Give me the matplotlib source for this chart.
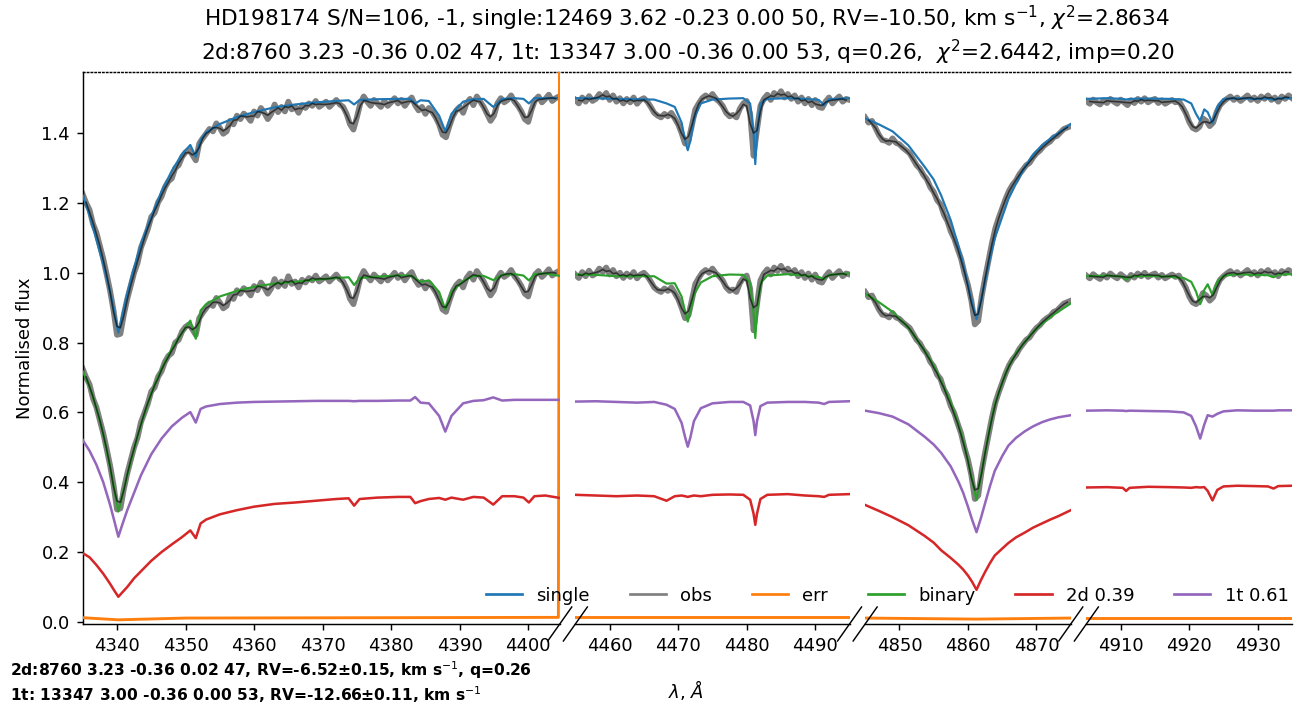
import numpy as np
import matplotlib.pyplot as plt
from matplotlib.lines import Line2D

# wavelength windows of the broken axis
xlims = [(4335, 4404.6), (4455, 4495), (4845, 4875), (4905, 4935)]

# ---- panel 1 (H gamma) model grid and components
wave1 = [4335, 4336, 4337, 4338, 4339, 4339.6, 4340.2, 4340.8, 4341.5, 4342.5,
         4343.5, 4345, 4346.5, 4348, 4349.5, 4350.7, 4351.5, 4352.2, 4353, 4355,
         4357.5, 4360, 4363, 4366, 4369, 4372, 4373.8, 4374.6, 4375.4, 4378,
         4381, 4382.8, 4383.5, 4384.3, 4385.5, 4387, 4387.9, 4388.8, 4390.5, 4392,
         4393.5, 4394.9, 4396.2, 4398, 4399.3, 4400.1, 4400.9, 4402.5, 4404.6]
single1 = [0.722, 0.665, 0.595, 0.525, 0.445, 0.390, 0.328, 0.380, 0.440, 0.515,
           0.582, 0.660, 0.733, 0.792, 0.840, 0.866, 0.832, 0.880, 0.902, 0.926,
           0.946, 0.960, 0.974, 0.982, 0.988, 0.992, 0.994, 0.982, 0.995, 0.997,
           0.998, 0.998, 0.985, 0.994, 0.992, 0.950, 0.905, 0.955, 0.990, 0.997,
           0.998, 0.975, 0.998, 1.000, 0.998, 0.985, 1.000, 1.000, 1.000]
d2_1 = [0.197, 0.185, 0.163, 0.138, 0.109, 0.090, 0.072, 0.085, 0.100, 0.125,
        0.145, 0.175, 0.200, 0.222, 0.243, 0.262, 0.240, 0.282, 0.293, 0.308,
        0.320, 0.330, 0.338, 0.342, 0.347, 0.352, 0.354, 0.333, 0.352, 0.356,
        0.358, 0.358, 0.340, 0.346, 0.352, 0.355, 0.350, 0.356, 0.350, 0.358,
        0.356, 0.336, 0.360, 0.360, 0.356, 0.342, 0.360, 0.362, 0.355]
t1_1 = [0.521, 0.490, 0.450, 0.400, 0.335, 0.290, 0.244, 0.280, 0.320, 0.370,
        0.420, 0.480, 0.525, 0.560, 0.585, 0.601, 0.571, 0.610, 0.617, 0.624,
        0.628, 0.630, 0.631, 0.632, 0.633, 0.633, 0.633, 0.632, 0.633, 0.633,
        0.634, 0.634, 0.644, 0.628, 0.626, 0.590, 0.545, 0.590, 0.626, 0.633,
        0.635, 0.643, 0.634, 0.636, 0.636, 0.636, 0.636, 0.636, 0.636]

# ---- panel 2 (He I 4471, Mg II 4481)
wave2 = [4455, 4458, 4461, 4464, 4466.5, 4468.3, 4469.5, 4470.5, 4471.0, 4471.4,
         4471.8, 4472.3, 4473.3, 4475, 4477.5, 4479.5, 4480.5, 4481.0, 4481.25, 4481.5,
         4482.0, 4483, 4486, 4488.5, 4490.5, 4491.3, 4492, 4495]
single2 = [1.000, 1.000, 0.998, 0.997, 0.996, 0.985, 0.975, 0.930, 0.880, 0.851,
           0.880, 0.940, 0.985, 0.996, 0.999, 1.000, 0.985, 0.900, 0.811, 0.900,
           0.985, 0.998, 1.000, 0.998, 0.995, 0.980, 0.997, 1.000]
d2_2 = [0.364, 0.362, 0.360, 0.362, 0.360, 0.347, 0.360, 0.362, 0.360, 0.358,
        0.360, 0.362, 0.360, 0.364, 0.365, 0.364, 0.350, 0.310, 0.278, 0.310,
        0.352, 0.364, 0.366, 0.362, 0.360, 0.358, 0.364, 0.366]
t1_2 = [0.631, 0.632, 0.630, 0.628, 0.630, 0.622, 0.610, 0.570, 0.530, 0.502,
        0.530, 0.575, 0.612, 0.626, 0.630, 0.630, 0.620, 0.575, 0.535, 0.575,
        0.618, 0.628, 0.630, 0.630, 0.628, 0.624, 0.630, 0.632]

# ---- panel 3 (H beta)
wave3 = [4845, 4847, 4849, 4851.3, 4853.7, 4855, 4856.1, 4857.5, 4858.6, 4859.3,
         4860.0, 4860.6, 4861.25, 4861.9, 4862.5, 4863.2, 4863.9, 4865, 4865.9, 4867,
         4868.3, 4869.5, 4870.8, 4872, 4873.2, 4875]
single3 = [0.942, 0.925, 0.905, 0.865, 0.803, 0.767, 0.721, 0.650, 0.577, 0.525,
           0.465, 0.415, 0.367, 0.420, 0.475, 0.540, 0.598, 0.660, 0.711, 0.755,
           0.803, 0.838, 0.865, 0.884, 0.900, 0.926]
d2_3 = [0.335, 0.318, 0.300, 0.277, 0.246, 0.227, 0.205, 0.183, 0.164, 0.150,
        0.133, 0.115, 0.092, 0.120, 0.143, 0.168, 0.190, 0.210, 0.226, 0.242,
        0.256, 0.270, 0.282, 0.293, 0.303, 0.320]
t1_3 = [0.605, 0.598, 0.588, 0.566, 0.530, 0.508, 0.484, 0.445, 0.402, 0.370,
        0.330, 0.293, 0.257, 0.298, 0.340, 0.388, 0.432, 0.475, 0.505, 0.527,
        0.546, 0.560, 0.572, 0.580, 0.586, 0.592]

# ---- panel 4 (He I 4922)
wave4 = [4905, 4908, 4910.3, 4910.8, 4911.3, 4914, 4917, 4919.2, 4920.3, 4921.0,
         4921.6, 4922.2, 4922.7, 4923.4, 4924.1, 4925, 4927, 4929.5, 4931.5, 4932.3,
         4933, 4935]
single4 = [0.998, 1.000, 0.998, 0.996, 0.998, 0.999, 0.998, 0.996, 0.985, 0.955,
           0.935, 0.968, 0.960, 0.928, 0.975, 0.998, 1.000, 0.998, 0.999, 0.995,
           1.000, 1.000]
d2_4 = [0.385, 0.386, 0.384, 0.375, 0.384, 0.387, 0.386, 0.385, 0.384, 0.386,
        0.385, 0.386, 0.375, 0.348, 0.378, 0.388, 0.390, 0.389, 0.388, 0.382,
        0.389, 0.390]
t1_4 = [0.605, 0.606, 0.605, 0.604, 0.605, 0.604, 0.603, 0.600, 0.590, 0.560,
        0.525, 0.565, 0.592, 0.588, 0.596, 0.603, 0.606, 0.605, 0.605, 0.605,
        0.606, 0.606]

# ---- observed spectrum, 0.5 A steps from the left edge of each window
obs_step = 0.5
obs1 = [0.725, 0.700, 0.680, 0.640, 0.615, 0.578, 0.540, 0.495, 0.448, 0.392,
        0.322, 0.325, 0.380, 0.425, 0.462, 0.500, 0.528, 0.572, 0.598, 0.625,
        0.660, 0.672, 0.702, 0.718, 0.745, 0.762, 0.770, 0.800, 0.808, 0.832,
        0.845, 0.852, 0.838, 0.822, 0.870, 0.885, 0.898, 0.912, 0.905, 0.928,
        0.915, 0.898, 0.905, 0.935, 0.925, 0.950, 0.940, 0.956, 0.948, 0.935,
        0.962, 0.950, 0.972, 0.958, 0.940, 0.955, 0.982, 0.960, 0.975, 0.962,
        0.990, 0.968, 0.975, 0.958, 0.980, 0.972, 0.985, 0.978, 0.992, 0.975,
        0.982, 0.990, 0.975, 0.985, 0.995, 0.982, 0.975, 0.955, 0.925, 0.910,
        0.945, 0.985, 1.005, 0.990, 0.978, 0.995, 0.985, 0.975, 0.992, 0.978,
        0.988, 1.000, 0.985, 0.995, 0.978, 0.992, 1.002, 0.980, 0.965, 0.975,
        0.955, 0.972, 0.960, 0.945, 0.925, 0.895, 0.888, 0.920, 0.948, 0.965,
        0.975, 0.958, 0.985, 0.998, 0.980, 1.005, 0.990, 0.975, 0.955, 0.935,
        0.950, 0.985, 1.000, 0.988, 0.995, 1.008, 0.990, 0.978, 0.962, 0.940,
        0.932, 0.968, 0.995, 1.005, 0.988, 0.998, 1.010, 0.992, 1.000, 1.005]
obs2 = [0.995, 0.985, 1.002, 0.990, 1.006, 0.992, 0.998, 1.012, 1.002, 1.015,
        0.995, 1.008, 0.990, 1.000, 0.985, 0.998, 0.988, 1.002, 0.984, 0.995,
        1.000, 0.990, 0.975, 0.958, 0.950, 0.945, 0.955, 0.948, 0.958, 0.942,
        0.925, 0.900, 0.870, 0.878, 0.922, 0.968, 0.985, 1.000, 1.008, 1.000,
        1.012, 0.998, 0.990, 0.978, 0.958, 0.948, 0.952, 0.945, 0.970, 0.985,
        0.992, 0.955, 0.835, 0.910, 0.978, 0.998, 1.010, 0.995, 1.015, 1.005,
        1.020, 1.002, 1.012, 0.998, 1.008, 0.990, 1.002, 0.985, 0.998, 0.980,
        0.995, 0.975, 0.972, 0.990, 1.002, 0.985, 0.996, 1.005, 0.990, 0.998,
        0.995]
obs3 = [0.945, 0.930, 0.935, 0.915, 0.895, 0.880, 0.878, 0.872, 0.885, 0.872,
        0.868, 0.858, 0.850, 0.842, 0.825, 0.808, 0.798, 0.780, 0.768, 0.745,
        0.732, 0.708, 0.696, 0.666, 0.648, 0.618, 0.598, 0.568, 0.540, 0.498,
        0.465, 0.420, 0.352, 0.362, 0.432, 0.485, 0.535, 0.585, 0.628, 0.658,
        0.685, 0.712, 0.735, 0.752, 0.764, 0.782, 0.795, 0.808, 0.815, 0.830,
        0.842, 0.850, 0.862, 0.870, 0.876, 0.888, 0.892, 0.902, 0.912, 0.916,
        0.920]
obs4 = [0.992, 0.984, 0.996, 0.988, 0.982, 0.994, 0.986, 0.998, 0.990, 0.984,
        0.996, 0.988, 0.980, 0.994, 0.986, 0.998, 0.990, 1.000, 0.988, 0.994,
        0.998, 0.986, 0.994, 0.984, 0.990, 0.995, 0.988, 0.992, 0.975, 0.958,
        0.932, 0.915, 0.910, 0.918, 0.942, 0.935, 0.920, 0.930, 0.960, 0.980,
        0.990, 0.998, 1.005, 0.995, 1.002, 0.992, 1.000, 1.008, 0.995, 1.002,
        0.992, 1.005, 0.998, 1.008, 0.995, 1.002, 0.990, 1.005, 0.998, 1.008,
        1.000]

# ---- error spectrum
err_wave1 = [4335, 4340.2, 4350, 4404.4, 4404.6]
err1 = [0.012, 0.006, 0.011, 0.013, 2.0]
err_wave2 = [4455, 4495]
err2 = [0.013, 0.013]
err_wave3 = [4845, 4861.2, 4875]
err3 = [0.011, 0.008, 0.011]
err_wave4 = [4905, 4935]
err4 = [0.012, 0.012]

offset = 0.5

title1 = r'HD198174 S/N=106, -1, single:12469 3.62 -0.23 0.00 50, RV=-10.50, km s$^{-1}$, $\chi^2$=2.8634'
title2 = r'2d:8760 3.23 -0.36 0.02 47, 1t: 13347 3.00 -0.36 0.00 53, q=0.26,  $\chi^2$=2.6442, imp=0.20'
foot1 = r'2d:8760 3.23 -0.36 0.02 47, RV=-6.52±0.15, km s$^{-1}$, q=0.26'
foot2 = r'1t: 13347 3.00 -0.36 0.00 53, RV=-12.66±0.11, km s$^{-1}$'

panels = [
    (wave1, single1, d2_1, t1_1, obs1, err_wave1, err1),
    (wave2, single2, d2_2, t1_2, obs2, err_wave2, err2),
    (wave3, single3, d2_3, t1_3, obs3, err_wave3, err3),
    (wave4, single4, d2_4, t1_4, obs4, err_wave4, err4),
]

W, H = 1307, 716
fig = plt.figure(figsize=(W / 130, H / 130), dpi=130)
left, right = 82.7 / W, 1292 / W
bottom, top = 1 - 624 / H, 1 - 72 / H

gs = fig.add_gridspec(1, 4, left=left, right=right, bottom=bottom, top=top,
                      width_ratios=[b - a for a, b in xlims], wspace=0.0537)

# invisible big axes only for the dotted line on top
big = fig.add_axes([left, bottom, right - left, top - bottom], zorder=-1)
big.patch.set_visible(False)
for s in ['left', 'right', 'bottom']:
    big.spines[s].set_visible(False)
big.spines['top'].set_linestyle(':')
big.set_xticks([])
big.set_yticks([])

axes = []
handles = None
for i, (wm, sm, d2, t1, ob, ew, er) in enumerate(panels):
    ax = fig.add_subplot(gs[0, i])
    ax.patch.set_visible(False)
    wm = np.array(wm)
    sm = np.array(sm)
    d2 = np.array(d2)
    t1 = np.array(t1)
    binary = d2 + t1
    ob = np.array(ob)
    wo = xlims[i][0] + obs_step * np.arange(len(ob))
    # smoothed observation drawn dark on top of the fits
    sm_ob = np.convolve(ob, np.ones(3) / 3, mode='valid')
    wsm = wo[1:-1]

    h1, = ax.plot(wm, sm + offset, color='C0', lw=1.2, zorder=3, label='single')
    h2, = ax.plot(wo, ob + offset, color='grey', lw=3.2, zorder=2, label='obs')
    ax.plot(wo, ob, color='grey', lw=3.2, zorder=2)
    h3, = ax.plot(ew, er, color='C1', lw=1.6, zorder=3, label='err')
    h4, = ax.plot(wm, binary, color='C2', lw=1.2, zorder=3, label='binary')
    h5, = ax.plot(wm, d2, color='C3', lw=1.4, zorder=3, label='2d 0.39')
    h6, = ax.plot(wm, t1, color='C4', lw=1.4, zorder=3, label='1t 0.61')
    ax.plot(wsm, sm_ob + offset, color='k', alpha=0.6, lw=0.9, zorder=4)
    ax.plot(wsm, sm_ob, color='k', alpha=0.6, lw=0.9, zorder=4)
    if handles is None:
        handles = [h1, h2, h3, h4, h5, h6]

    ax.set_xlim(*xlims[i])
    ax.set_ylim(-0.006, 1.575)
    ax.xaxis.set_major_locator(plt.MultipleLocator(10))
    ax.spines['top'].set_visible(False)
    ax.spines['right'].set_visible(False)
    if i > 0:
        ax.spines['left'].set_visible(False)
        ax.tick_params(left=False, labelleft=False)
    else:
        ax.set_yticks(np.arange(0, 1.41, 0.2))
        ax.set_ylabel('Normalised flux')
    axes.append(ax)

# break marks between panels
fig.canvas.draw()
dxm, dym = 12 / W, 17 / H
for i, ax in enumerate(axes):
    p = ax.get_position()
    xs = []
    if i > 0:
        xs.append(p.x0)
    if i < len(axes) - 1:
        xs.append(p.x1)
    for x in xs:
        fig.add_artist(Line2D([x - dxm, x + dxm], [p.y0 - dym, p.y0 + dym],
                              color='k', lw=0.8, transform=fig.transFigure))

leg = fig.legend(handles=handles, loc='lower right', ncol=6, frameon=False,
                 bbox_to_anchor=(1296 / W, 1 - 612 / H), borderaxespad=0,
                 columnspacing=2.2)
for lh in leg.legend_handles:
    lh.set_linewidth(1.5)

xc = (left + right) / 2
fig.text(xc, 1 - 18 / H, title1, ha='center', va='center', fontsize=12)
fig.text(xc, 1 - 52 / H, title2, ha='center', va='center', fontsize=12)
fig.text(10 / W, 1 - 670 / H, foot1, ha='left', va='center', fontsize=8.6,
         fontweight='bold')
fig.text(10 / W, 1 - 695 / H, foot2, ha='left', va='center', fontsize=8.6,
         fontweight='bold')
fig.text(686 / W, 1 - 690 / H, r'$\lambda$, $\AA$', ha='center', va='center')

fig.savefig('out.png', dpi=130)
